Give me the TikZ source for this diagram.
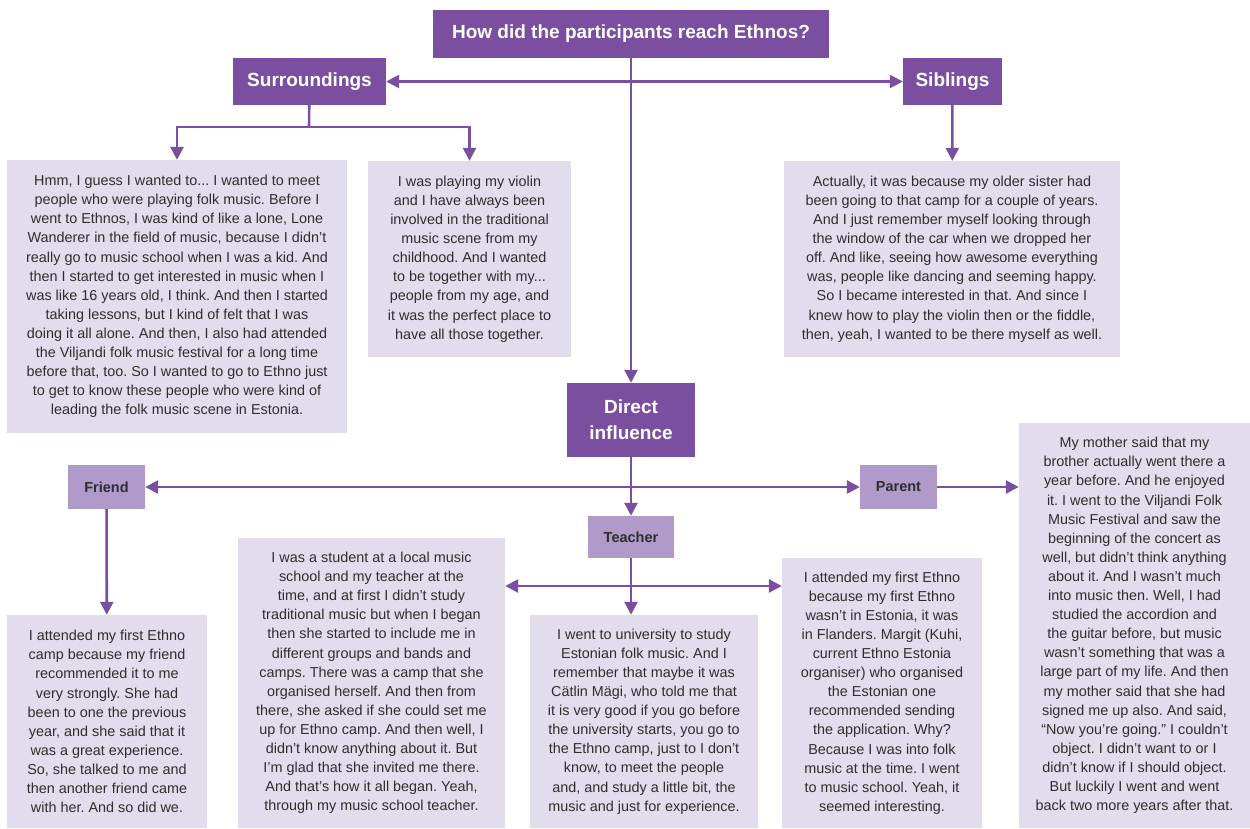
\documentclass[tikz,border=0pt]{standalone}
\usepackage{fontspec}
\setmainfont{Liberation Sans}
\usetikzlibrary{arrows.meta}
\frenchspacing

\definecolor{ethdark}{HTML}{7B4F9F}
\definecolor{ethmid}{HTML}{AF9ACA}
\definecolor{ethlight}{HTML}{E2DCEC}
\definecolor{ethtext}{HTML}{2E2E2E}

\tikzset{
  headbox/.style={fill=ethdark, text=white, inner sep=0, align=center,
    font=\bfseries\fontsize{19}{26}\selectfont},
  subbox/.style={fill=ethmid, text=ethtext, inner sep=0,
    font=\bfseries\fontsize{14.5}{15}\selectfont},
  quotebox/.style={fill=ethlight, text=ethtext, inner sep=0, align=center,
    font=\fontsize{14.4}{19.1}\selectfont},
  link/.style={draw=ethdark, line width=2.6pt},
  arrowlink/.style={link, -{Triangle[length=13pt,width=13pt]}},
  bothlink/.style={link, {Triangle[length=13pt,width=13pt]}-{Triangle[length=13pt,width=13pt]}}
}

\begin{document}
\begin{tikzpicture}[x=1pt,y=-1pt]
\useasboundingbox (0,0) rectangle (1250,828);

% top level
\node[headbox, minimum width=396pt, minimum height=48pt] (question) at (631,34) {How did the participants reach Ethnos?};
\node[headbox, minimum width=153pt, minimum height=47pt] (surround) at (309.5,81.5) {Surroundings};
\node[headbox, minimum width=99pt, minimum height=47pt] (sibling) at (952.5,81.5) {Siblings};
\node[headbox, minimum width=128pt, minimum height=74pt] (direct) at (631,420) {Direct\\influence};

% quotes: surroundings and siblings
\node[quotebox, minimum width=340pt, minimum height=273pt] (qsurrA) at (177,296.5) {Hmm, I guess I wanted to... I wanted to meet\\people who were playing folk music. Before I\\went to Ethnos, I was kind of like a lone, Lone\\Wanderer in the field of music, because I didn't\\really go to music school when I was a kid. And\\then I started to get interested in music when I\\was like 16 years old, I think. And then I started\\taking lessons, but I kind of felt that I was\\doing it all alone. And then, I also had attended\\the Viljandi folk music festival for a long time\\before that, too. So I wanted to go to Ethno just\\to get to know these people who were kind of\\leading the folk music scene in Estonia.};
\node[quotebox, minimum width=203pt, minimum height=196pt] (qsurrB) at (469.5,259) {I was playing my violin\\and I have always been\\involved in the traditional\\music scene from my\\childhood. And I wanted\\to be together with my...\\people from my age, and\\it was the perfect place to\\have all those together.};
\node[quotebox, minimum width=336pt, minimum height=196pt] (qsib) at (952,259) {Actually, it was because my older sister had\\been going to that camp for a couple of years.\\And I just remember myself looking through\\the window of the car when we dropped her\\off. And like, seeing how awesome everything\\was, people like dancing and seeming happy.\\So I became interested in that. And since I\\knew how to play the violin then or the fiddle,\\then, yeah, I wanted to be there myself as well.};

% direct influence
\node[subbox, minimum width=77pt, minimum height=44pt] (friend) at (106.5,487) {Friend};
\node[subbox, minimum width=77pt, minimum height=44pt] (parent) at (898.5,487) {Parent};
\node[subbox, minimum width=86pt, minimum height=42pt] (teacher) at (631,537) {Teacher};

\node[quotebox, minimum width=231pt, minimum height=405pt] (qparent) at (1134.5,625.5) {My mother said that my\\brother actually went there a\\year before. And he enjoyed\\it. I went to the Viljandi Folk\\Music Festival and saw the\\beginning of the concert as\\well, but didn’t think anything\\about it. And I wasn’t much\\into music then. Well, I had\\studied the accordion and\\the guitar before, but music\\wasn’t something that was a\\large part of my life. And then\\my mother said that she had\\signed me up also. And said,\\“Now you’re going.” I couldn’t\\object. I didn’t want to or I\\didn’t know if I should object.\\But luckily I went and went\\back two more years after that.};
\node[quotebox, minimum width=200pt, minimum height=213pt] (qfriend) at (107,721.5) {I attended my first Ethno\\camp because my friend\\recommended it to me\\very strongly. She had\\been to one the previous\\year, and she said that it\\was a great experience.\\So, she talked to me and\\then another friend came\\with her. And so did we.};
\node[quotebox, minimum width=267pt, minimum height=290pt] (qteachA) at (371.5,683) {I was a student at a local music\\school and my teacher at the\\time, and at first I didn’t study\\traditional music but when I began\\then she started to include me in\\different groups and bands and\\camps. There was a camp that she\\organised herself. And then from\\there, she asked if she could set me\\up for Ethno camp. And then well, I\\didn’t know anything about it. But\\I’m glad that she invited me there.\\And that’s how it all began. Yeah,\\through my music school teacher.};
\node[quotebox, minimum width=228pt, minimum height=213pt] (qteachB) at (644,721.5) {I went to university to study\\Estonian folk music. And I\\remember that maybe it was\\Cätlin Mägi, who told me that\\it is very good if you go before\\the university starts, you go to\\the Ethno camp, just to I don’t\\know, to meet the people\\and, and study a little bit, the\\music and just for experience.};
\node[quotebox, minimum width=200pt, minimum height=270pt] (qteachC) at (882,693) {I attended my first Ethno\\because my first Ethno\\wasn’t in Estonia, it was\\in Flanders. Margit (Kuhi,\\current Ethno Estonia\\organiser) who organised\\the Estonian one\\recommended sending\\the application. Why?\\Because I was into folk\\music at the time. I went\\to music school. Yeah, it\\seemed interesting.};

% junctions
\coordinate (surrjoin) at (309,127);
\coordinate (teachjoin) at (631,586);

% connectors
\draw[arrowlink] (question) -- (direct);
\draw[bothlink] (surround) -- (sibling);
\draw[link] (surround) -- (surrjoin);
\draw[arrowlink] (surrjoin) -| (qsurrA.north);
\draw[arrowlink] (surrjoin) -| (qsurrB.north);
\draw[arrowlink] (sibling) -- (qsib);
\draw[arrowlink] (direct) -- (teacher);
\draw[bothlink] (friend) -- (parent);
\draw[arrowlink] (parent) -- (parent.east -| qparent.west);
\draw[arrowlink] (friend) -- (qfriend);
\draw[arrowlink] (teacher) -- (teacher.south |- qteachB.north);
\draw[bothlink] (teachjoin -| qteachA.east) -- (teachjoin -| qteachC.west);
\end{tikzpicture}
\end{document}
